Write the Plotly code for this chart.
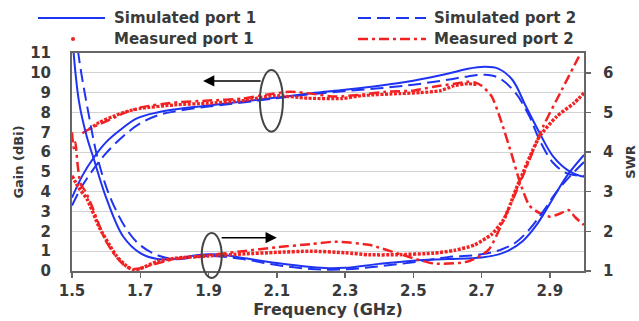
import plotly.graph_objects as go

# ---------------- data ----------------
x_ticks = [1.5, 1.7, 1.9, 2.1, 2.3, 2.5, 2.7, 2.9]
gain_ticks = [0, 1, 2, 3, 4, 5, 6, 7, 8, 9, 10, 11]
swr_ticks = [1, 2, 3, 4, 5, 6]

# Gain (left axis, dBi)
sim1_gain_f = [1.50, 1.53, 1.563, 1.60, 1.64, 1.69, 1.75, 1.80, 1.90, 2.00, 2.10, 2.20, 2.30,
               2.40, 2.50, 2.60, 2.66, 2.71, 2.75, 2.79, 2.83, 2.87, 2.91, 2.96, 3.00]
sim1_gain = [3.7, 4.8, 5.7, 6.5, 7.1, 7.7, 8.0, 8.15, 8.35, 8.55, 8.75, 8.97, 9.15,
             9.35, 9.6, 9.95, 10.2, 10.3, 10.2, 9.65, 8.3, 6.96, 5.77, 5.0, 4.75]

sim2_gain_f = [1.50, 1.53, 1.572, 1.60, 1.65, 1.70, 1.75, 1.80, 1.90, 2.00, 2.10, 2.20, 2.30,
               2.40, 2.50, 2.60, 2.66, 2.71, 2.75, 2.80, 2.84, 2.87, 2.91, 2.95, 3.00]
sim2_gain = [3.3, 4.3, 5.35, 5.95, 6.8, 7.45, 7.85, 8.05, 8.3, 8.5, 8.72, 8.92, 9.08,
             9.22, 9.4, 9.65, 9.82, 9.9, 9.75, 8.97, 7.8, 6.6, 5.45, 4.93, 4.8]

meas1_gain_f = [1.55, 1.58, 1.62, 1.66, 1.70, 1.80, 1.90, 2.00, 2.09, 2.19, 2.29, 2.35,
                2.46, 2.52, 2.58, 2.62, 2.66, 2.69]
meas1_gain = [7.15, 7.5, 7.8, 8.05, 8.2, 8.38, 8.47, 8.6, 8.85, 8.72, 8.7, 8.85,
              8.95, 9.0, 9.1, 9.35, 9.45, 9.4]

meas2_gain_f = [1.53, 1.56, 1.60, 1.65, 1.70, 1.80, 1.90, 2.00, 2.07, 2.14, 2.20, 2.27, 2.35,
                2.42, 2.50, 2.56, 2.62, 2.66, 2.68, 2.70, 2.73, 2.756, 2.79, 2.81, 2.84,
                2.87, 2.90, 2.93, 2.955, 2.975, 3.00]
meas2_gain = [6.95, 7.25, 7.55, 7.95, 8.25, 8.5, 8.6, 8.7, 8.9, 9.05, 8.95, 8.8, 8.9,
              9.05, 9.1, 9.3, 9.45, 9.55, 9.52, 9.35, 8.8, 7.63, 5.77, 4.6, 3.3,
              2.92, 2.74, 2.9, 3.08, 2.7, 2.32]

# SWR (right axis)
sim1_swr_f = [1.50, 1.52, 1.543, 1.563, 1.60, 1.65, 1.70, 1.75, 1.80, 1.85, 1.90, 1.95, 2.00,
              2.10, 2.20, 2.25, 2.30, 2.40, 2.50, 2.60, 2.70, 2.75, 2.78, 2.82, 2.86, 2.90,
              2.95, 3.00]
sim1_swr = [7.0, 5.3, 4.4, 3.85, 2.85, 1.87, 1.45, 1.3, 1.3, 1.38, 1.42, 1.4, 1.33,
            1.2, 1.1, 1.07, 1.08, 1.18, 1.26, 1.3, 1.34, 1.42, 1.52, 1.75, 2.15, 2.7,
            3.4, 3.93]

sim2_swr_f = [1.50, 1.52, 1.55, 1.575, 1.61, 1.66, 1.70, 1.75, 1.80, 1.90, 2.00, 2.10, 2.20,
              2.30, 2.40, 2.50, 2.60, 2.70, 2.76, 2.80, 2.84, 2.88, 2.92, 2.96, 3.00]
sim2_swr = [8.0, 6.4, 4.9, 3.85, 2.9, 2.05, 1.65, 1.4, 1.3, 1.38, 1.3, 1.15, 1.05,
            1.04, 1.12, 1.22, 1.35, 1.42, 1.55, 1.72, 2.05, 2.5, 3.0, 3.4, 3.75]

meas1_swr_f = [1.50, 1.52, 1.545, 1.58, 1.61, 1.63, 1.66, 1.68, 1.70, 1.75, 1.80, 1.90, 2.00,
               2.10, 2.20, 2.30, 2.37, 2.45, 2.56, 2.62, 2.68, 2.73, 2.765, 2.785, 2.80,
               2.82, 2.85, 2.87, 2.92, 2.97, 3.00]
meas1_swr = [3.4, 3.1, 2.8, 2.1, 1.65, 1.38, 1.12, 1.03, 1.06, 1.24, 1.32, 1.38, 1.43,
             1.47, 1.5, 1.46, 1.41, 1.41, 1.45, 1.52, 1.66, 1.93, 2.3, 2.7, 3.05,
             3.45, 4.05, 4.4, 4.9, 5.23, 5.49]

meas2_swr_f = [1.50, 1.505, 1.51, 1.515, 1.525, 1.54, 1.56, 1.58, 1.60, 1.63, 1.66, 1.69, 1.72,
               1.80, 1.90, 2.00, 2.10, 2.20, 2.27, 2.37, 2.47, 2.56, 2.66, 2.72, 2.76,
               2.82, 2.88, 2.935, 2.985]
meas2_swr = [4.5, 4.1, 4.25, 3.8, 3.2, 3.0, 2.6, 2.15, 1.75, 1.35, 1.1, 1.05, 1.12,
             1.3, 1.4, 1.5, 1.6, 1.68, 1.74, 1.66, 1.4, 1.19, 1.24, 1.53, 2.2,
             3.38, 4.64, 5.57, 6.41]

legend_names = ["Simulated port 1", "Simulated port 2", "Measured port 1", "Measured port 2"]

# ---------------- styles ----------------
BLUE = "#1f33f2"
RED = "#f22222"
FONT = "DejaVu Sans"
TXT = "#3a3a3a"
AX = "#666666"
SIM2_DASH = "13px,6px"
MEAS1_DASH = "3px,1.5px"
MEAS2_DASH = "10px,4px,3px,4px"

fig = go.Figure()


def add(f, v, color, dash, width, yaxis, smoothing):
    fig.add_trace(go.Scatter(
        x=f, y=v, mode="lines", yaxis=yaxis, showlegend=False, hoverinfo="skip",
        line=dict(color=color, dash=dash, width=width, shape="spline", smoothing=smoothing)))


add(sim1_gain_f, sim1_gain, BLUE, "solid", 2, "y", 1.0)
add(sim2_gain_f, sim2_gain, BLUE, SIM2_DASH, 2, "y", 1.0)
add(meas1_gain_f, meas1_gain, RED, MEAS1_DASH, 3.2, "y", 0.6)
add(meas2_gain_f, meas2_gain, RED, MEAS2_DASH, 2.5, "y", 0.6)
add(sim1_swr_f, sim1_swr, BLUE, "solid", 2, "y2", 1.0)
add(sim2_swr_f, sim2_swr, BLUE, SIM2_DASH, 2, "y2", 1.0)
add(meas1_swr_f, meas1_swr, RED, MEAS1_DASH, 3.5, "y2", 0.6)
add(meas2_swr_f, meas2_swr, RED, MEAS2_DASH, 2.5, "y2", 0.6)

tickfont = dict(family=FONT, size=15, color=TXT, weight="bold")

fig.update_layout(
    width=639, height=321,
    margin=dict(l=72, r=55, t=53, b=50),
    paper_bgcolor="white", plot_bgcolor="white",
    showlegend=False,
    font=dict(family=FONT, size=14, color=TXT),
    xaxis=dict(
        range=[1.5, 3.0], tickvals=x_ticks, tickformat=".1f",
        ticks="outside", ticklen=5, tickwidth=1.5, tickcolor=AX,
        showline=True, linecolor=AX, linewidth=2, mirror=True,
        showgrid=False, zeroline=False, tickfont=tickfont, ticklabelstandoff=0,
        automargin=False,
        title=dict(text="Frequency (GHz)", font=dict(family=FONT, size=16, color=TXT, weight="bold"),
                   standoff=4)),
    yaxis=dict(
        range=[0, 11], tickvals=gain_ticks,
        showgrid=True, gridcolor="#d2d2d2", gridwidth=1,
        showline=True, linecolor=AX, linewidth=2, mirror=True,
        ticks="", zeroline=False, tickfont=tickfont, ticklabelstandoff=16,
        automargin=False,
        title=dict(text="Gain (dBi)", font=dict(family=FONT, size=13, color=TXT, weight="bold"),
                   standoff=4)),
    yaxis2=dict(
        overlaying="y", side="right", range=[1, 6.5], tickvals=swr_ticks,
        ticks="outside", ticklen=6, tickwidth=1.5, tickcolor=AX,
        showgrid=False, zeroline=False, showline=False,
        tickfont=tickfont, ticklabelstandoff=9, automargin=False,
        title=dict(text="SWR", font=dict(family=FONT, size=13, color=TXT, weight="bold"),
                   standoff=13)),
)

# ---------------- annotation marks: ellipses and arrows ----------------
fig.add_shape(type="circle", xref="paper", yref="paper", x0=0.367, x1=0.412, y0=0.639, y1=0.922,
              line=dict(color="#444444", width=2), layer="above")
fig.add_shape(type="circle", xref="paper", yref="paper", x0=0.2533, x1=0.2924, y0=-0.032, y1=0.1743,
              line=dict(color="#444444", width=2), layer="above")
fig.add_annotation(x=1.884, y=9.59, ax=2.057, ay=9.59, xref="x", yref="y", axref="x", ayref="y",
                   text="", showarrow=True, arrowhead=2, arrowsize=1.5, arrowwidth=1.5,
                   arrowcolor="black")
fig.add_annotation(x=2.10, y=1.68, ax=1.934, ay=1.68, xref="x", yref="y", axref="x", ayref="y",
                   text="", showarrow=True, arrowhead=2, arrowsize=1.5, arrowwidth=1.5,
                   arrowcolor="black")

# ---------------- legend (drawn at the top, two columns) ----------------
row1, row2 = 1.1606, 1.0642
col1_x0, col1_x1 = -0.0664, 0.0645
col2_x0, col2_x1 = 0.5586, 0.6914
fig.add_shape(type="line", xref="paper", yref="paper", x0=col1_x0, x1=col1_x1, y0=row1, y1=row1,
              line=dict(color=BLUE, width=2))
fig.add_shape(type="line", xref="paper", yref="paper", x0=col2_x0, x1=col2_x1, y0=row1, y1=row1,
              line=dict(color=BLUE, width=2, dash=SIM2_DASH))
fig.add_shape(type="circle", xref="paper", yref="paper", x0=-0.002, x1=0.006, y0=row2 - 0.009,
              y1=row2 + 0.009, fillcolor=RED, line=dict(color=RED, width=0))
fig.add_shape(type="line", xref="paper", yref="paper", x0=col2_x0, x1=col2_x1, y0=row2, y1=row2,
              line=dict(color=RED, width=2.5, dash=MEAS2_DASH))
for name, xx, yy in zip(legend_names, [0.0781, 0.7031, 0.0781, 0.7031], [row1, row1, row2, row2]):
    fig.add_annotation(x=xx, y=yy, xref="paper", yref="paper", text=name, showarrow=False,
                       xanchor="left", yanchor="middle",
                       font=dict(family=FONT, size=15, color=TXT, weight="bold"))

# remove the default 8px page margin so the 639x321 figure fills the window exactly
fig.write_html("out.html",
               config={"displayModeBar": False, "staticPlot": True},
               post_script="document.body.style.margin='0';document.body.style.padding='0';")
